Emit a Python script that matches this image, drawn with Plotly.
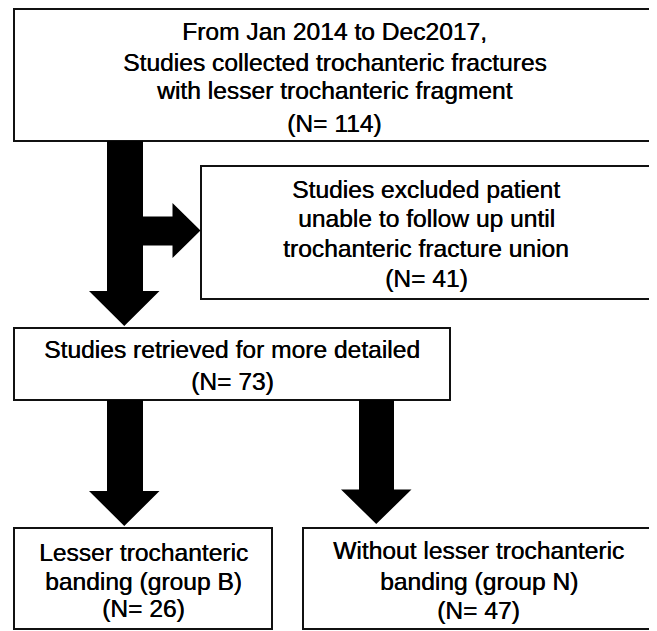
import plotly.graph_objects as go

# ---- data ----
box_texts = [
    ["From Jan 2014 to Dec2017,", "Studies collected trochanteric fractures",
     "with lesser trochanteric fragment"],
    ["Studies excluded patient", "unable to follow up until",
     "trochanteric fracture union"],
    ["Studies retrieved for more detailed"],
    ["Lesser trochanteric", "banding (group B)"],
    ["Without lesser trochanteric", "banding (group N)"],
]
box_counts = [114, 41, 73, 26, 47]

# ---- layout (pixel geometry of the page) ----
W, H = 657, 631
OFF = 8  # default page margin of the html body
boxes = [  # x0, x1, y0, y1
    (14, 655, 9, 141),
    (201, 651, 166, 299),
    (14, 450, 328, 400),
    (14, 272, 528, 629),
    (303, 654, 528, 629),
]
line_y = [
    [30, 61, 89.5, 122],
    [188, 217.5, 247, 277.5],
    [348.5, 380.5],
    [551, 580.5, 607],
    [549.5, 580, 609.5],
]

fig = go.Figure()
shapes = []
annotations = []
font = dict(family="Liberation Sans, Arial, sans-serif", size=24.6, color="#000",
            shadow="0.4px 0px 0px #000")

for (x0, x1, y0, y1), lines, n, ys in zip(boxes, box_texts, box_counts, line_y):
    shapes.append(dict(type="rect", xref="x", yref="y", x0=x0, x1=x1, y0=y0, y1=y1,
                       line=dict(color="#111", width=2), fillcolor="white", layer="below"))
    all_lines = lines + [f"(N= {n})"]
    for t, y in zip(all_lines, ys):
        annotations.append(dict(x=(x0 + x1) / 2, y=y + 1, xref="x", yref="y",
                                text=t, showarrow=False, font=font,
                                xanchor="center", yanchor="middle"))


def down_arrow(sx0, sx1, y_top, y_head, hx0, hx1, y_tip):
    cx = (hx0 + hx1) / 2
    return (f"M {sx0} {y_top} L {sx1} {y_top} L {sx1} {y_head} L {hx1} {y_head} "
            f"L {cx} {y_tip} L {hx0} {y_head} L {sx0} {y_head} Z")


paths = [
    down_arrow(107, 143, 141, 291, 89, 159.5, 326),
    down_arrow(107, 143, 400, 491, 89, 159.5, 526),
    down_arrow(359, 394, 400, 489.5, 341, 411.5, 524),
    # right branch arrow
    "M 143 216.5 L 172.5 216.5 L 172.5 203 L 200.5 230.5 L 172.5 258 L 172.5 245.5 L 143 245.5 Z",
]
for p in paths:
    shapes.append(dict(type="path", xref="x", yref="y", path=p,
                       fillcolor="#000", line=dict(color="#000", width=0)))

fig.update_layout(
    width=W - OFF, height=H - OFF, margin=dict(l=0, r=0, t=0, b=0),
    paper_bgcolor="white", plot_bgcolor="white",
    xaxis=dict(range=[OFF, W], visible=False, fixedrange=True),
    yaxis=dict(range=[H, OFF], visible=False, fixedrange=True),
    shapes=shapes, annotations=annotations, showlegend=False,
)
fig.write_html("out.html")
